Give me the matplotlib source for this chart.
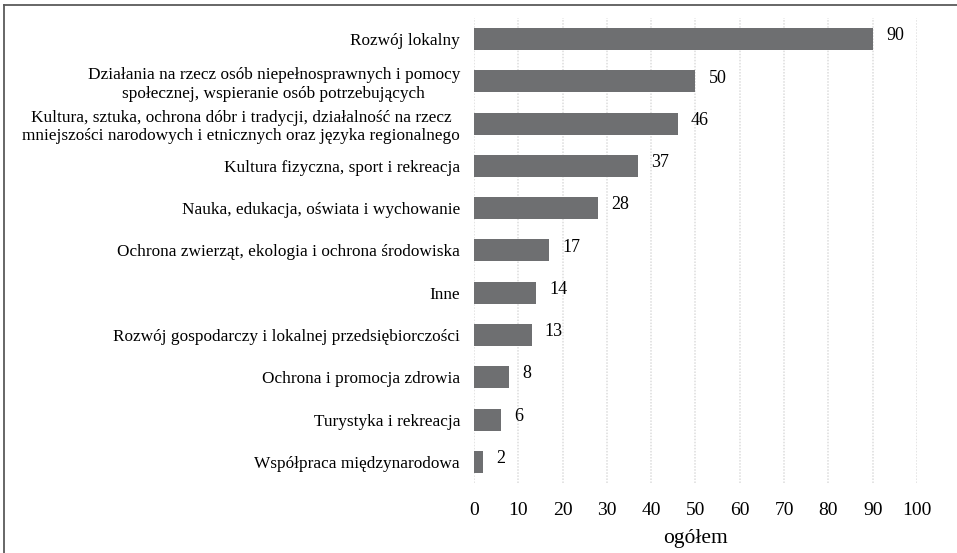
import matplotlib.pyplot as plt
from matplotlib.lines import Line2D

plt.rcParams['font.family'] = ['Liberation Serif', 'DejaVu Serif']

categories = [
    'Rozwój lokalny',
    'Działania na rzecz osób niepełnosprawnych i pomocy\nspołecznej, wspieranie osób potrzebujących',
    'Kultura, sztuka, ochrona dóbr i tradycji, działalność na rzecz\nmniejszości narodowych i etnicznych oraz języka regionalnego',
    'Kultura fizyczna, sport i rekreacja',
    'Nauka, edukacja, oświata i wychowanie',
    'Ochrona zwierząt, ekologia i ochrona środowiska',
    'Inne',
    'Rozwój gospodarczy i lokalnej przedsiębiorczości',
    'Ochrona i promocja zdrowia',
    'Turystyka i rekreacja',
    'Współpraca międzynarodowa',
]
values = [90, 50, 46, 37, 28, 17, 14, 13, 8, 6, 2]
xticks = [0, 10, 20, 30, 40, 50, 60, 70, 80, 90, 100]

fig = plt.figure(figsize=(9.57, 5.53), dpi=100)
ax = fig.add_axes([0.4953, 0.1266, 0.4629, 0.8409])

pos = list(range(len(categories)))
ax.barh(pos, values, height=0.52, color='#6e6f71', zorder=2)
for p, v in zip(pos, values):
    ax.text(v + 3.0, p - 0.08, str(v), va='center', ha='left', fontsize=13)

ax.set_ylim(len(categories) - 0.5, -0.5)
ax.set_xlim(0, 100)
ax.set_yticks(pos)
ax.set_yticklabels(categories, fontsize=12.4, multialignment='center')
ax.set_xticks(xticks)
ax.tick_params(axis='x', labelsize=14, length=0, pad=14)
ax.tick_params(axis='y', length=0, pad=10)
ax.xaxis.grid(True, color='#dcdcdc', linestyle=(0, (1, 1)), linewidth=1.1, zorder=0)
for s in ax.spines.values():
    s.set_visible(False)
ax.set_xlabel('ogółem', fontsize=15.5, labelpad=7)

fig.add_artist(Line2D([0.0047, 0.0047], [0, 0.991], transform=fig.transFigure, color='#5a5a5a', lw=1.3))
fig.add_artist(Line2D([0.0047, 1], [0.991, 0.991], transform=fig.transFigure, color='#5a5a5a', lw=1.3))

fig.savefig('out.png', dpi=100)
